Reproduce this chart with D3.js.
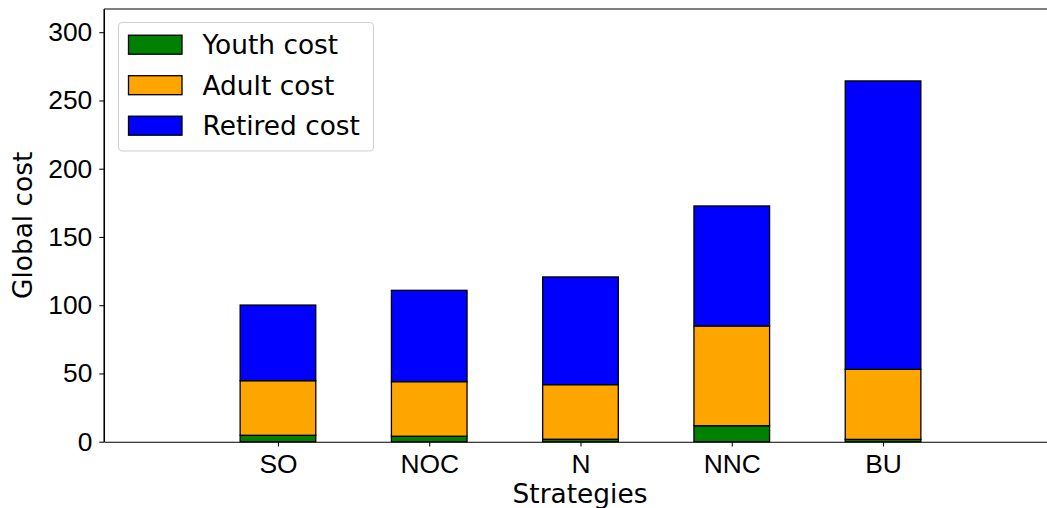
<!DOCTYPE html>
<html>
<head>
<meta charset="utf-8">
<script src="https://cdn.jsdelivr.net/npm/d3@7"></script>
<style>
  body { margin: 0; background: #fff; }
  svg { display: block; font-family: "DejaVu Sans", sans-serif; }
</style>
</head>
<body>
<svg width="1047" height="508"></svg>
<script>
const width = 1047, height = 508;
const svg = d3.select("svg");

// Data
const strategies = ["SO", "NOC", "N", "NNC", "BU"];
const youthCost = [4.7, 4.0, 1.8, 11.7, 1.7];
const adultCost = [40.0, 40.0, 40.0, 73.1, 51.3];
const retiredCost = [55.4, 66.9, 78.9, 87.9, 211.3];
const yTicks = [0, 50, 100, 150, 200, 250, 300];
const seriesNames = ["Youth cost", "Adult cost", "Retired cost"];
const seriesColors = ["#008000", "#ffa500", "#0000ff"];

const fontSize = "26.4px";
const plot = { left: 104, right: 1057, top: 9, bottom: 441.7 };

const xScale = d3.scaleLinear().domain([-1.15, 5.15]).range([plot.left, plot.right]);
const yScale = d3.scaleLinear().domain([0, 317]).range([plot.bottom, plot.top]);
const barWidth = xScale(0.5) - xScale(0);

// Stack the three series
const rows = strategies.map((s, i) => ({
    name: s, idx: i,
    "Youth cost": youthCost[i],
    "Adult cost": adultCost[i],
    "Retired cost": retiredCost[i]
}));
const stacked = d3.stack().keys(seriesNames)(rows);

stacked.forEach((layer, k) => {
    svg.append("g").selectAll("rect")
        .data(layer).enter().append("rect")
        .attr("x", d => xScale(d.data.idx) - barWidth / 2)
        .attr("width", barWidth)
        .attr("y", d => yScale(d[1]))
        .attr("height", d => yScale(d[0]) - yScale(d[1]))
        .attr("fill", seriesColors[k])
        .attr("stroke", "#000")
        .attr("stroke-width", 1.3);
});

// Axes
const yAxis = svg.append("g")
    .attr("transform", `translate(${plot.left},0)`)
    .call(d3.axisLeft(yScale).tickValues(yTicks).tickSize(4.7).tickPadding(7).tickSizeOuter(0));
const xAxis = svg.append("g")
    .attr("transform", `translate(0,${plot.bottom})`)
    .call(d3.axisBottom(xScale).tickValues(d3.range(strategies.length))
        .tickFormat(i => strategies[i]).tickSize(4.7).tickPadding(7.4).tickSizeOuter(0));

[yAxis, xAxis].forEach(ax => {
    ax.selectAll("text").style("font-size", fontSize).attr("fill", "#000");
    ax.selectAll("line").attr("stroke", "#000").attr("stroke-width", 1.07);
    ax.select(".domain").attr("stroke", "#000").attr("stroke-width", 1.07);
});

// Top and left spines
svg.append("line")
    .attr("x1", plot.left).attr("x2", plot.right)
    .attr("y1", plot.top).attr("y2", plot.top)
    .attr("stroke", "#000").attr("stroke-width", 1.07);
svg.append("line")
    .attr("x1", plot.left).attr("x2", plot.left)
    .attr("y1", plot.top).attr("y2", plot.bottom)
    .attr("stroke", "#000").attr("stroke-width", 1.07);

// Axis labels
svg.append("text")
    .attr("x", 580).attr("y", 503)
    .attr("text-anchor", "middle").style("font-size", fontSize)
    .text("Strategies");
svg.append("text")
    .attr("transform", `translate(32,${(plot.top + plot.bottom) / 2}) rotate(-90)`)
    .attr("text-anchor", "middle").style("font-size", fontSize)
    .text("Global cost");

// Legend
const legend = svg.append("g");
legend.append("rect")
    .attr("x", 118.5).attr("y", 22.5).attr("width", 255).attr("height", 128.5)
    .attr("rx", 4).attr("fill", "#fff").attr("fill-opacity", 0.8)
    .attr("stroke", "#d0d0d0").attr("stroke-width", 1.07);
const items = legend.selectAll(".item").data(seriesNames).enter().append("g")
    .attr("class", "item")
    .attr("transform", (d, i) => `translate(0,${44.7 + i * 40.5})`);
items.append("rect")
    .attr("x", 128.5).attr("y", -9.5).attr("width", 53.5).attr("height", 19)
    .attr("fill", (d, i) => seriesColors[i])
    .attr("stroke", "#000").attr("stroke-width", 1.3);
items.append("text")
    .attr("x", 202.5).attr("y", 0).attr("dy", "0.36em")
    .style("font-size", fontSize)
    .text(d => d);
</script>
</body>
</html>
